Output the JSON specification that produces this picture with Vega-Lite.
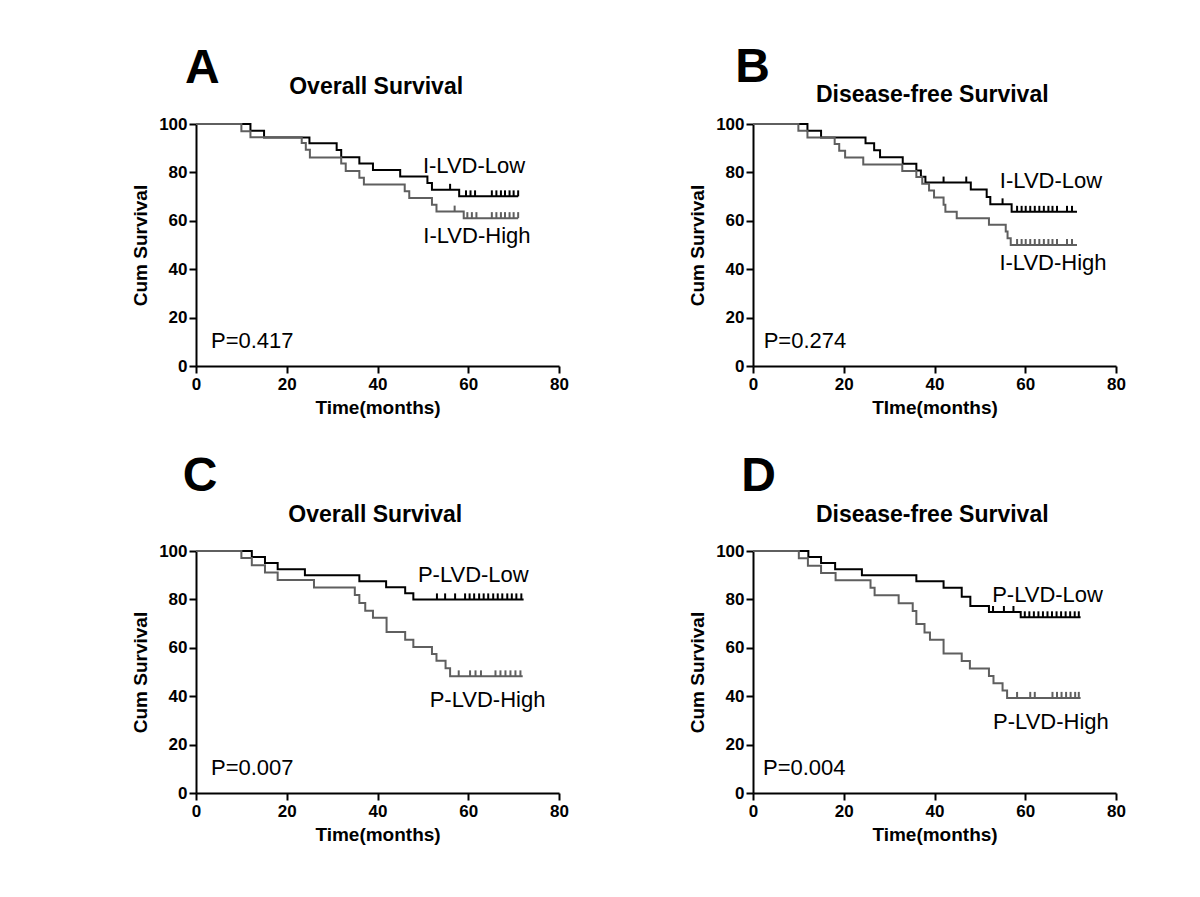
{
"$schema": "https://vega.github.io/schema/vega-lite/v6.json",
"padding": {"left": 131, "top": 43, "right": 5, "bottom": 5},
"background": "white",
"bounds": "flush",
"columns": 2,
"spacing": {"row": 185, "column": 194},
"config": {
  "view": {"stroke": null},
  "font": "Liberation Sans",
  "axis": {"domainColor": "#000", "domainWidth": 2, "tickColor": "#000", "tickWidth": 2, "tickSize": 7, "grid": false,
    "labelFont": "Liberation Sans", "labelFontWeight": "bold", "labelFontSize": 17, "labelColor": "#000", "labelFlush": false, "labelOverlap": false,
    "titleFont": "Liberation Sans", "titleFontWeight": "bold", "titleFontSize": 19, "titleColor": "#000"},
  "axisX": {"labelPadding": 3, "titlePadding": 6},
  "axisY": {"labelPadding": 2, "titlePadding": 8},
  "tick": {"opacity": 1}
},
"datasets": {
"curves": [
{"panel":"A","group":"Low","t":0,"s":100},{"panel":"A","group":"Low","t":12,"s":97.2},{"panel":"A","group":"Low","t":15,"s":94.4},{"panel":"A","group":"Low","t":25,"s":92.0},{"panel":"A","group":"Low","t":31,"s":89.3},{"panel":"A","group":"Low","t":32,"s":86.3},{"panel":"A","group":"Low","t":36,"s":83.7},{"panel":"A","group":"Low","t":39,"s":81.0},{"panel":"A","group":"Low","t":45,"s":78.3},{"panel":"A","group":"Low","t":51,"s":75.6},{"panel":"A","group":"Low","t":52,"s":72.8},{"panel":"A","group":"Low","t":58,"s":70.1},{"panel":"A","group":"Low","t":71,"s":70.1},
{"panel":"A","group":"High","t":0,"s":100},{"panel":"A","group":"High","t":10,"s":97.0},{"panel":"A","group":"High","t":12,"s":94.5},{"panel":"A","group":"High","t":23.3,"s":92.1},{"panel":"A","group":"High","t":24.2,"s":89.4},{"panel":"A","group":"High","t":25.1,"s":86.2},{"panel":"A","group":"High","t":32,"s":83.7},{"panel":"A","group":"High","t":33,"s":80.6},{"panel":"A","group":"High","t":36,"s":77.8},{"panel":"A","group":"High","t":37,"s":75.0},{"panel":"A","group":"High","t":46,"s":72.2},{"panel":"A","group":"High","t":47,"s":69.4},{"panel":"A","group":"High","t":52,"s":66.6},{"panel":"A","group":"High","t":53,"s":63.8},{"panel":"A","group":"High","t":59,"s":61.1},{"panel":"A","group":"High","t":71,"s":61.1},
{"panel":"B","group":"Low","t":0,"s":100},{"panel":"B","group":"Low","t":12,"s":97.2},{"panel":"B","group":"Low","t":15,"s":94.4},{"panel":"B","group":"Low","t":24.8,"s":92.0},{"panel":"B","group":"Low","t":26.7,"s":89.2},{"panel":"B","group":"Low","t":28,"s":86.3},{"panel":"B","group":"Low","t":33,"s":83.6},{"panel":"B","group":"Low","t":36,"s":80.8},{"panel":"B","group":"Low","t":37,"s":78.2},{"panel":"B","group":"Low","t":38,"s":75.8},{"panel":"B","group":"Low","t":48,"s":72.9},{"panel":"B","group":"Low","t":51.5,"s":69.8},{"panel":"B","group":"Low","t":52.3,"s":66.8},{"panel":"B","group":"Low","t":57,"s":63.7},{"panel":"B","group":"Low","t":71.4,"s":63.7},
{"panel":"B","group":"High","t":0,"s":100},{"panel":"B","group":"High","t":10,"s":97.2},{"panel":"B","group":"High","t":12,"s":94.4},{"panel":"B","group":"High","t":18,"s":91.7},{"panel":"B","group":"High","t":19,"s":88.9},{"panel":"B","group":"High","t":20.3,"s":86.2},{"panel":"B","group":"High","t":24.3,"s":83.3},{"panel":"B","group":"High","t":32.9,"s":80.6},{"panel":"B","group":"High","t":36,"s":78.1},{"panel":"B","group":"High","t":37.3,"s":75.3},{"panel":"B","group":"High","t":38.8,"s":72.5},{"panel":"B","group":"High","t":39.9,"s":69.6},{"panel":"B","group":"High","t":42,"s":66.6},{"panel":"B","group":"High","t":42.4,"s":63.7},{"panel":"B","group":"High","t":44.9,"s":61.1},{"panel":"B","group":"High","t":52,"s":58.4},{"panel":"B","group":"High","t":55.7,"s":55.6},{"panel":"B","group":"High","t":56.1,"s":52.8},{"panel":"B","group":"High","t":56.8,"s":50},{"panel":"B","group":"High","t":71.4,"s":50},
{"panel":"C","group":"Low","t":0,"s":100},{"panel":"C","group":"Low","t":12.3,"s":97.5},{"panel":"C","group":"Low","t":15.2,"s":95},{"panel":"C","group":"Low","t":18,"s":92.5},{"panel":"C","group":"Low","t":24,"s":90},{"panel":"C","group":"Low","t":36,"s":87.5},{"panel":"C","group":"Low","t":41.9,"s":85},{"panel":"C","group":"Low","t":46.1,"s":82.5},{"panel":"C","group":"Low","t":47.9,"s":80},{"panel":"C","group":"Low","t":72.2,"s":80},
{"panel":"C","group":"High","t":0,"s":100},{"panel":"C","group":"High","t":10,"s":97.1},{"panel":"C","group":"High","t":12.3,"s":94.1},{"panel":"C","group":"High","t":15.2,"s":91.1},{"panel":"C","group":"High","t":18,"s":88},{"panel":"C","group":"High","t":26,"s":84.9},{"panel":"C","group":"High","t":35,"s":81.8},{"panel":"C","group":"High","t":36,"s":78.5},{"panel":"C","group":"High","t":37.3,"s":75.3},{"panel":"C","group":"High","t":39,"s":72.4},{"panel":"C","group":"High","t":42,"s":66.5},{"panel":"C","group":"High","t":46.1,"s":63.3},{"panel":"C","group":"High","t":47.9,"s":60.3},{"panel":"C","group":"High","t":52,"s":57.4},{"panel":"C","group":"High","t":53,"s":54.6},{"panel":"C","group":"High","t":55,"s":51.5},{"panel":"C","group":"High","t":56,"s":48.2},{"panel":"C","group":"High","t":72,"s":48.2},
{"panel":"D","group":"Low","t":0,"s":100},{"panel":"D","group":"Low","t":12.2,"s":97.5},{"panel":"D","group":"Low","t":15,"s":95},{"panel":"D","group":"Low","t":18.1,"s":92.5},{"panel":"D","group":"Low","t":24,"s":90},{"panel":"D","group":"Low","t":36,"s":87.5},{"panel":"D","group":"Low","t":42,"s":84.8},{"panel":"D","group":"Low","t":46,"s":81.1},{"panel":"D","group":"Low","t":47.9,"s":77.3},{"panel":"D","group":"Low","t":52,"s":74.8},{"panel":"D","group":"Low","t":59,"s":72.6},{"panel":"D","group":"Low","t":72.2,"s":72.6},
{"panel":"D","group":"High","t":0,"s":100},{"panel":"D","group":"High","t":10.1,"s":97},{"panel":"D","group":"High","t":12.1,"s":93.9},{"panel":"D","group":"High","t":15,"s":90.9},{"panel":"D","group":"High","t":18.2,"s":87.9},{"panel":"D","group":"High","t":25.9,"s":84.8},{"panel":"D","group":"High","t":26.8,"s":81.7},{"panel":"D","group":"High","t":32.1,"s":78.4},{"panel":"D","group":"High","t":35.2,"s":75.2},{"panel":"D","group":"High","t":36,"s":69.8},{"panel":"D","group":"High","t":37.8,"s":66.3},{"panel":"D","group":"High","t":39,"s":63.3},{"panel":"D","group":"High","t":42,"s":57.6},{"panel":"D","group":"High","t":46,"s":54.5},{"panel":"D","group":"High","t":47.8,"s":51.4},{"panel":"D","group":"High","t":52,"s":48.3},{"panel":"D","group":"High","t":53,"s":45.4},{"panel":"D","group":"High","t":55,"s":42.4},{"panel":"D","group":"High","t":56,"s":39.3},{"panel":"D","group":"High","t":72.2,"s":39.3}
],
"censors": [
{"panel":"A","group":"Low","t":56,"s":72.8},{"panel":"A","group":"Low","t":59.5,"s":70.1},{"panel":"A","group":"Low","t":60.5,"s":70.1},{"panel":"A","group":"Low","t":61.5,"s":70.1},{"panel":"A","group":"Low","t":65.2,"s":70.1},{"panel":"A","group":"Low","t":66.2,"s":70.1},{"panel":"A","group":"Low","t":67.2,"s":70.1},{"panel":"A","group":"Low","t":68.1,"s":70.1},{"panel":"A","group":"Low","t":69.1,"s":70.1},{"panel":"A","group":"Low","t":70,"s":70.1},{"panel":"A","group":"Low","t":71,"s":70.1},
{"panel":"A","group":"High","t":57,"s":63.8},{"panel":"A","group":"High","t":59.8,"s":61.1},{"panel":"A","group":"High","t":60.8,"s":61.1},{"panel":"A","group":"High","t":61.8,"s":61.1},{"panel":"A","group":"High","t":65.2,"s":61.1},{"panel":"A","group":"High","t":66.2,"s":61.1},{"panel":"A","group":"High","t":67.2,"s":61.1},{"panel":"A","group":"High","t":68.1,"s":61.1},{"panel":"A","group":"High","t":69.1,"s":61.1},{"panel":"A","group":"High","t":70,"s":61.1},{"panel":"A","group":"High","t":71,"s":61.1},
{"panel":"B","group":"Low","t":42,"s":75.8},{"panel":"B","group":"Low","t":47,"s":75.8},{"panel":"B","group":"Low","t":55,"s":66.8},{"panel":"B","group":"Low","t":58.2,"s":63.7},{"panel":"B","group":"Low","t":59.2,"s":63.7},{"panel":"B","group":"Low","t":60.1,"s":63.7},{"panel":"B","group":"Low","t":61.1,"s":63.7},{"panel":"B","group":"Low","t":62.1,"s":63.7},{"panel":"B","group":"Low","t":63.1,"s":63.7},{"panel":"B","group":"Low","t":64.1,"s":63.7},{"panel":"B","group":"Low","t":65.1,"s":63.7},{"panel":"B","group":"Low","t":66,"s":63.7},{"panel":"B","group":"Low","t":67,"s":63.7},{"panel":"B","group":"Low","t":69.2,"s":63.7},{"panel":"B","group":"Low","t":70.3,"s":63.7},
{"panel":"B","group":"High","t":58.2,"s":50},{"panel":"B","group":"High","t":59.2,"s":50},{"panel":"B","group":"High","t":60.1,"s":50},{"panel":"B","group":"High","t":61.1,"s":50},{"panel":"B","group":"High","t":62.1,"s":50},{"panel":"B","group":"High","t":63.1,"s":50},{"panel":"B","group":"High","t":64.1,"s":50},{"panel":"B","group":"High","t":65.1,"s":50},{"panel":"B","group":"High","t":66,"s":50},{"panel":"B","group":"High","t":67,"s":50},{"panel":"B","group":"High","t":69.2,"s":50},{"panel":"B","group":"High","t":70.3,"s":50},
{"panel":"C","group":"Low","t":53.1,"s":80},{"panel":"C","group":"Low","t":54.9,"s":80},{"panel":"C","group":"Low","t":57.1,"s":80},{"panel":"C","group":"Low","t":59.3,"s":80},{"panel":"C","group":"Low","t":60.3,"s":80},{"panel":"C","group":"Low","t":61.3,"s":80},{"panel":"C","group":"Low","t":62.4,"s":80},{"panel":"C","group":"Low","t":63.4,"s":80},{"panel":"C","group":"Low","t":64.4,"s":80},{"panel":"C","group":"Low","t":65.5,"s":80},{"panel":"C","group":"Low","t":66.5,"s":80},{"panel":"C","group":"Low","t":67.5,"s":80},{"panel":"C","group":"Low","t":68.6,"s":80},{"panel":"C","group":"Low","t":69.6,"s":80},{"panel":"C","group":"Low","t":70.6,"s":80},{"panel":"C","group":"Low","t":71.7,"s":80},
{"panel":"C","group":"High","t":57.9,"s":48.2},{"panel":"C","group":"High","t":60.4,"s":48.2},{"panel":"C","group":"High","t":61.6,"s":48.2},{"panel":"C","group":"High","t":62.8,"s":48.2},{"panel":"C","group":"High","t":66,"s":48.2},{"panel":"C","group":"High","t":67.1,"s":48.2},{"panel":"C","group":"High","t":68.2,"s":48.2},{"panel":"C","group":"High","t":69.3,"s":48.2},{"panel":"C","group":"High","t":70.4,"s":48.2},{"panel":"C","group":"High","t":71.5,"s":48.2},
{"panel":"D","group":"Low","t":52.9,"s":74.8},{"panel":"D","group":"Low","t":55.3,"s":74.8},{"panel":"D","group":"Low","t":57.4,"s":74.8},{"panel":"D","group":"Low","t":59.9,"s":72.6},{"panel":"D","group":"Low","t":60.9,"s":72.6},{"panel":"D","group":"Low","t":61.9,"s":72.6},{"panel":"D","group":"Low","t":62.9,"s":72.6},{"panel":"D","group":"Low","t":63.9,"s":72.6},{"panel":"D","group":"Low","t":64.9,"s":72.6},{"panel":"D","group":"Low","t":65.9,"s":72.6},{"panel":"D","group":"Low","t":66.9,"s":72.6},{"panel":"D","group":"Low","t":67.9,"s":72.6},{"panel":"D","group":"Low","t":68.9,"s":72.6},{"panel":"D","group":"Low","t":69.9,"s":72.6},{"panel":"D","group":"Low","t":70.9,"s":72.6},{"panel":"D","group":"Low","t":71.8,"s":72.6},
{"panel":"D","group":"High","t":58.2,"s":39.3},{"panel":"D","group":"High","t":61.1,"s":39.3},{"panel":"D","group":"High","t":62.1,"s":39.3},{"panel":"D","group":"High","t":66,"s":39.3},{"panel":"D","group":"High","t":67,"s":39.3},{"panel":"D","group":"High","t":68,"s":39.3},{"panel":"D","group":"High","t":69,"s":39.3},{"panel":"D","group":"High","t":70,"s":39.3},{"panel":"D","group":"High","t":71,"s":39.3},{"panel":"D","group":"High","t":71.8,"s":39.3}
]
},
"concat": [
{
 "width": 363, "height": 242,
 "layer": [
  {"data": {"name": "curves"}, "transform": [{"filter": "datum.panel === 'A'"}],
   "mark": {"type": "line", "interpolate": "step-after", "strokeWidth": 2},
   "encoding": {
    "x": {"field": "t", "type": "quantitative", "scale": {"domain": [0, 80], "nice": false}, "axis": {"values": [0, 20, 40, 60, 80], "title": "Time(months)"}},
    "y": {"field": "s", "type": "quantitative", "scale": {"domain": [0, 100], "nice": false}, "axis": {"values": [0, 20, 40, 60, 80, 100], "title": "Cum Survival"}},
    "color": {"field": "group", "type": "nominal", "scale": {"domain": ["Low", "High"], "range": ["#000000", "#5f5f5f"]}, "legend": null}}},
  {"data": {"name": "censors"}, "transform": [{"filter": "datum.panel === 'A'"}],
   "mark": {"type": "tick", "orient": "vertical", "size": 6, "thickness": 2, "yOffset": -3, "opacity": 1},
   "encoding": {"x": {"field": "t", "type": "quantitative"}, "y": {"field": "s", "type": "quantitative"},
    "color": {"field": "group", "type": "nominal", "scale": {"domain": ["Low", "High"], "range": ["#000000", "#404040"]}, "legend": null}}},
  {"data": {"values": [{}]}, "mark": {"type": "text", "text": "A", "fontSize": 48, "fontWeight": "bold", "align": "left", "baseline": "alphabetic", "color": "#000"},
   "encoding": {"x": {"datum": -2.4, "type": "quantitative"}, "y": {"datum": 117, "type": "quantitative"}}},
  {"data": {"values": [{}]}, "mark": {"type": "text", "text": "Overall Survival", "fontSize": 23, "fontWeight": "bold", "align": "center", "baseline": "alphabetic", "color": "#000"},
   "encoding": {"x": {"datum": 39.7, "type": "quantitative"}, "y": {"datum": 112.4, "type": "quantitative"}}},
  {"data": {"values": [{}]}, "mark": {"type": "text", "text": "I-LVD-Low", "fontSize": 22, "align": "left", "baseline": "alphabetic", "color": "#000"},
   "encoding": {"x": {"datum": 50, "type": "quantitative"}, "y": {"datum": 79.6, "type": "quantitative"}}},
  {"data": {"values": [{}]}, "mark": {"type": "text", "text": "I-LVD-High", "fontSize": 22, "align": "left", "baseline": "alphabetic", "color": "#000"},
   "encoding": {"x": {"datum": 50.1, "type": "quantitative"}, "y": {"datum": 51, "type": "quantitative"}}},
  {"data": {"values": [{}]}, "mark": {"type": "text", "text": "P=0.417", "fontSize": 22, "align": "left", "baseline": "alphabetic", "color": "#000"},
   "encoding": {"x": {"datum": 3.3, "type": "quantitative"}, "y": {"datum": 7.3, "type": "quantitative"}}}
 ]
},
{
 "width": 363, "height": 242,
 "layer": [
  {"data": {"name": "curves"}, "transform": [{"filter": "datum.panel === 'B'"}],
   "mark": {"type": "line", "interpolate": "step-after", "strokeWidth": 2},
   "encoding": {
    "x": {"field": "t", "type": "quantitative", "scale": {"domain": [0, 80], "nice": false}, "axis": {"values": [0, 20, 40, 60, 80], "title": "TIme(months)"}},
    "y": {"field": "s", "type": "quantitative", "scale": {"domain": [0, 100], "nice": false}, "axis": {"values": [0, 20, 40, 60, 80, 100], "title": "Cum Survival"}},
    "color": {"field": "group", "type": "nominal", "scale": {"domain": ["Low", "High"], "range": ["#000000", "#5f5f5f"]}, "legend": null}}},
  {"data": {"name": "censors"}, "transform": [{"filter": "datum.panel === 'B'"}],
   "mark": {"type": "tick", "orient": "vertical", "size": 6, "thickness": 2, "yOffset": -3, "opacity": 1},
   "encoding": {"x": {"field": "t", "type": "quantitative"}, "y": {"field": "s", "type": "quantitative"},
    "color": {"field": "group", "type": "nominal", "scale": {"domain": ["Low", "High"], "range": ["#000000", "#404040"]}, "legend": null}}},
  {"data": {"values": [{}]}, "mark": {"type": "text", "text": "B", "fontSize": 48, "fontWeight": "bold", "align": "left", "baseline": "alphabetic", "color": "#000"},
   "encoding": {"x": {"datum": -3.9, "type": "quantitative"}, "y": {"datum": 117.4, "type": "quantitative"}}},
  {"data": {"values": [{}]}, "mark": {"type": "text", "text": "Disease-free Survival", "fontSize": 23, "fontWeight": "bold", "align": "center", "baseline": "alphabetic", "color": "#000"},
   "encoding": {"x": {"datum": 39.5, "type": "quantitative"}, "y": {"datum": 109.2, "type": "quantitative"}}},
  {"data": {"values": [{}]}, "mark": {"type": "text", "text": "I-LVD-Low", "fontSize": 22, "align": "left", "baseline": "alphabetic", "color": "#000"},
   "encoding": {"x": {"datum": 54.4, "type": "quantitative"}, "y": {"datum": 73.5, "type": "quantitative"}}},
  {"data": {"values": [{}]}, "mark": {"type": "text", "text": "I-LVD-High", "fontSize": 22, "align": "left", "baseline": "alphabetic", "color": "#000"},
   "encoding": {"x": {"datum": 54.3, "type": "quantitative"}, "y": {"datum": 39.8, "type": "quantitative"}}},
  {"data": {"values": [{}]}, "mark": {"type": "text", "text": "P=0.274", "fontSize": 22, "align": "left", "baseline": "alphabetic", "color": "#000"},
   "encoding": {"x": {"datum": 2.35, "type": "quantitative"}, "y": {"datum": 7.6, "type": "quantitative"}}}
 ]
},
{
 "width": 363, "height": 242,
 "layer": [
  {"data": {"name": "curves"}, "transform": [{"filter": "datum.panel === 'C'"}],
   "mark": {"type": "line", "interpolate": "step-after", "strokeWidth": 2},
   "encoding": {
    "x": {"field": "t", "type": "quantitative", "scale": {"domain": [0, 80], "nice": false}, "axis": {"values": [0, 20, 40, 60, 80], "title": "Time(months)"}},
    "y": {"field": "s", "type": "quantitative", "scale": {"domain": [0, 100], "nice": false}, "axis": {"values": [0, 20, 40, 60, 80, 100], "title": "Cum Survival"}},
    "color": {"field": "group", "type": "nominal", "scale": {"domain": ["Low", "High"], "range": ["#000000", "#5f5f5f"]}, "legend": null}}},
  {"data": {"name": "censors"}, "transform": [{"filter": "datum.panel === 'C'"}],
   "mark": {"type": "tick", "orient": "vertical", "size": 6, "thickness": 2, "yOffset": -3, "opacity": 1},
   "encoding": {"x": {"field": "t", "type": "quantitative"}, "y": {"field": "s", "type": "quantitative"},
    "color": {"field": "group", "type": "nominal", "scale": {"domain": ["Low", "High"], "range": ["#000000", "#404040"]}, "legend": null}}},
  {"data": {"values": [{}]}, "mark": {"type": "text", "text": "C", "fontSize": 48, "fontWeight": "bold", "align": "left", "baseline": "alphabetic", "color": "#000"},
   "encoding": {"x": {"datum": -2.9, "type": "quantitative"}, "y": {"datum": 125, "type": "quantitative"}}},
  {"data": {"values": [{}]}, "mark": {"type": "text", "text": "Overall Survival", "fontSize": 23, "fontWeight": "bold", "align": "center", "baseline": "alphabetic", "color": "#000"},
   "encoding": {"x": {"datum": 39.5, "type": "quantitative"}, "y": {"datum": 112, "type": "quantitative"}}},
  {"data": {"values": [{}]}, "mark": {"type": "text", "text": "P-LVD-Low", "fontSize": 22, "align": "left", "baseline": "alphabetic", "color": "#000"},
   "encoding": {"x": {"datum": 48.9, "type": "quantitative"}, "y": {"datum": 87.2, "type": "quantitative"}}},
  {"data": {"values": [{}]}, "mark": {"type": "text", "text": "P-LVD-High", "fontSize": 22, "align": "left", "baseline": "alphabetic", "color": "#000"},
   "encoding": {"x": {"datum": 51.5, "type": "quantitative"}, "y": {"datum": 35.5, "type": "quantitative"}}},
  {"data": {"values": [{}]}, "mark": {"type": "text", "text": "P=0.007", "fontSize": 22, "align": "left", "baseline": "alphabetic", "color": "#000"},
   "encoding": {"x": {"datum": 3.3, "type": "quantitative"}, "y": {"datum": 7.3, "type": "quantitative"}}}
 ]
},
{
 "width": 363, "height": 242,
 "layer": [
  {"data": {"name": "curves"}, "transform": [{"filter": "datum.panel === 'D'"}],
   "mark": {"type": "line", "interpolate": "step-after", "strokeWidth": 2},
   "encoding": {
    "x": {"field": "t", "type": "quantitative", "scale": {"domain": [0, 80], "nice": false}, "axis": {"values": [0, 20, 40, 60, 80], "title": "Time(months)"}},
    "y": {"field": "s", "type": "quantitative", "scale": {"domain": [0, 100], "nice": false}, "axis": {"values": [0, 20, 40, 60, 80, 100], "title": "Cum Survival"}},
    "color": {"field": "group", "type": "nominal", "scale": {"domain": ["Low", "High"], "range": ["#000000", "#5f5f5f"]}, "legend": null}}},
  {"data": {"name": "censors"}, "transform": [{"filter": "datum.panel === 'D'"}],
   "mark": {"type": "tick", "orient": "vertical", "size": 6, "thickness": 2, "yOffset": -3, "opacity": 1},
   "encoding": {"x": {"field": "t", "type": "quantitative"}, "y": {"field": "s", "type": "quantitative"},
    "color": {"field": "group", "type": "nominal", "scale": {"domain": ["Low", "High"], "range": ["#000000", "#404040"]}, "legend": null}}},
  {"data": {"values": [{}]}, "mark": {"type": "text", "text": "D", "fontSize": 48, "fontWeight": "bold", "align": "left", "baseline": "alphabetic", "color": "#000"},
   "encoding": {"x": {"datum": -2.6, "type": "quantitative"}, "y": {"datum": 125, "type": "quantitative"}}},
  {"data": {"values": [{}]}, "mark": {"type": "text", "text": "Disease-free Survival", "fontSize": 23, "fontWeight": "bold", "align": "center", "baseline": "alphabetic", "color": "#000"},
   "encoding": {"x": {"datum": 39.5, "type": "quantitative"}, "y": {"datum": 112, "type": "quantitative"}}},
  {"data": {"values": [{}]}, "mark": {"type": "text", "text": "P-LVD-Low", "fontSize": 22, "align": "left", "baseline": "alphabetic", "color": "#000"},
   "encoding": {"x": {"datum": 52.7, "type": "quantitative"}, "y": {"datum": 78.9, "type": "quantitative"}}},
  {"data": {"values": [{}]}, "mark": {"type": "text", "text": "P-LVD-High", "fontSize": 22, "align": "left", "baseline": "alphabetic", "color": "#000"},
   "encoding": {"x": {"datum": 52.9, "type": "quantitative"}, "y": {"datum": 26.6, "type": "quantitative"}}},
  {"data": {"values": [{}]}, "mark": {"type": "text", "text": "P=0.004", "fontSize": 22, "align": "left", "baseline": "alphabetic", "color": "#000"},
   "encoding": {"x": {"datum": 2.2, "type": "quantitative"}, "y": {"datum": 7.3, "type": "quantitative"}}}
 ]
}
]
}
